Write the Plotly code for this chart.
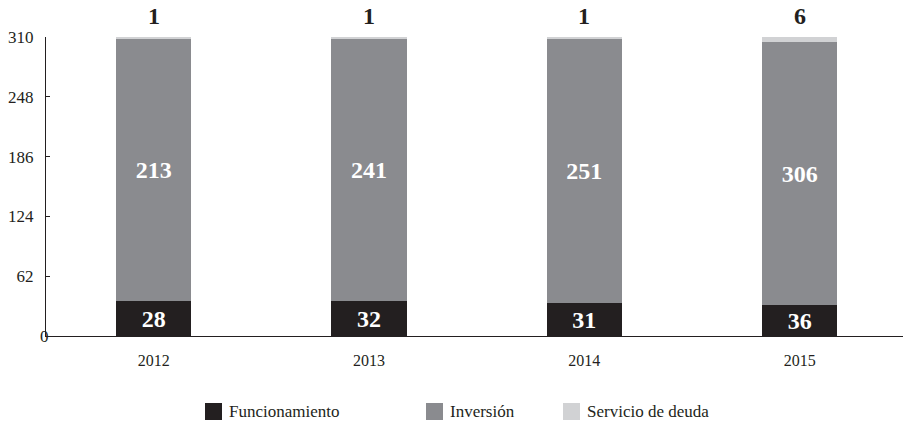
import plotly.graph_objects as go

# Budget composition per year (shares drawn as 100% stacked bars)
years = ["2012", "2013", "2014", "2015"]
funcionamiento = [28, 32, 31, 36]
inversion = [213, 241, 251, 306]
servicio_deuda = [1, 1, 1, 6]

series_names = ["Funcionamiento", "Inversión", "Servicio de deuda"]
series_colors = ["#231f20", "#8a8b8f", "#d1d2d4"]

y_tick_labels = [0, 62, 124, 186, 248, 310]
y_scale_top = 310

FONT = "Liberation Serif"

fig = go.Figure()

for name, vals, color, show_text in [
    (series_names[0], funcionamiento, series_colors[0], True),
    (series_names[1], inversion, series_colors[1], True),
    (series_names[2], servicio_deuda, series_colors[2], False),
]:
    fig.add_trace(go.Bar(
        x=years,
        y=vals,
        name=name,
        marker=dict(color=color, line=dict(width=0)),
        width=0.35,
        text=[str(v) for v in vals] if show_text else None,
        textposition="inside" if show_text else "none",
        insidetextanchor="middle",
        textangle=0,
        insidetextfont=dict(family=FONT, size=24, color="white", weight="bold"),
        constraintext="none",
        showlegend=False,
        hoverinfo="skip",
    ))

# Debt-service values written above each bar (x given as category index)
for i, v in enumerate(servicio_deuda):
    fig.add_annotation(
        x=i, y=1, xref="x", yref="paper",
        text=f"<b>{v}</b>", showarrow=False,
        yanchor="bottom", yshift=6,
        font=dict(family=FONT, size=24, color="#231f20"),
    )

# Zero label sits on the axis line
fig.add_annotation(
    x=0, y=0, xref="paper", yref="paper", text="0", showarrow=False,
    xanchor="center", yanchor="middle", xshift=-2,
    font=dict(family=FONT, size=17, color="#231f20"),
)

# Legend drawn as swatches + labels below the axis
W, H = 903, 425
ML, MR, MT, MB = 46, 0, 37, 89
pw, ph = W - ML - MR, H - MT - MB


def px_to_paper_x(px):
    return (px - ML) / pw


def px_to_paper_y(py):
    return (H - MB - py) / ph


legend_x = [205, 426, 563]
sw = 17
ly_top, ly_bot = 403, 420
for x0, name, color in zip(legend_x, series_names, series_colors):
    fig.add_shape(
        type="rect", xref="paper", yref="paper",
        x0=px_to_paper_x(x0), x1=px_to_paper_x(x0 + sw),
        y0=px_to_paper_y(ly_bot), y1=px_to_paper_y(ly_top),
        fillcolor=color, line=dict(width=0),
    )
    fig.add_annotation(
        x=px_to_paper_x(x0 + sw + 5), y=px_to_paper_y((ly_top + ly_bot) / 2),
        xref="paper", yref="paper", text=name, showarrow=False,
        xanchor="left", yanchor="middle",
        font=dict(family=FONT, size=17, color="#231f20"),
    )

fig.update_layout(
    width=W, height=H,
    margin=dict(l=ML, r=MR, t=MT, b=MB, pad=0),
    barmode="stack",
    barnorm="percent",
    plot_bgcolor="white",
    paper_bgcolor="white",
    font=dict(family=FONT, color="#231f20"),
    showlegend=False,
)

fig.update_xaxes(
    type="category",
    range=[-0.5, 3.48],
    showline=True, linecolor="#231f20", linewidth=1,
    showgrid=False, zeroline=False,
    ticks="",
    tickfont=dict(family=FONT, size=16, color="#231f20"),
    ticklabelstandoff=10,
)

fig.update_yaxes(
    range=[0, 100],
    tickvals=[t / y_scale_top * 100 for t in y_tick_labels],
    ticktext=["" if t == 0 else str(t) for t in y_tick_labels],
    showline=True, linecolor="#231f20", linewidth=1,
    showgrid=False, zeroline=False,
    ticks="inside", ticklen=4, tickcolor="#231f20",
    tickfont=dict(family=FONT, size=17, color="#231f20"),
    ticklabelstandoff=8,
)

fig.write_html("out.html")
